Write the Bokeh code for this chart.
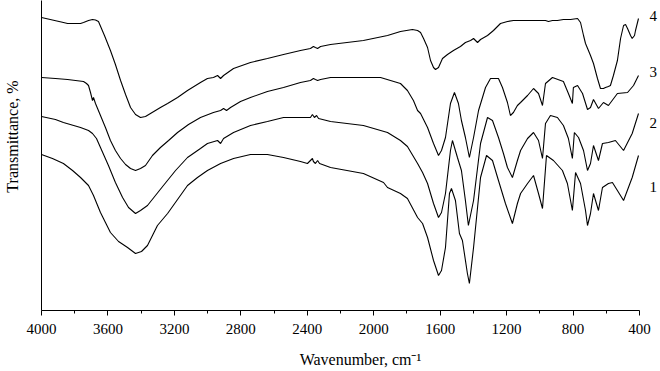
from bokeh.plotting import figure
from bokeh.models import Range1d, FixedTicker, LinearAxis
from bokeh.embed import file_html
from bokeh.resources import INLINE

# ---- data (wavenumber, cm-1 ; transmittance, arbitrary offset units) ----
wn4 = [4000, 3868, 3843, 3765, 3747, 3717, 3693, 3675, 3657, 3621, 3585, 3555, 3524, 3494, 3464, 3434, 3404, 3374, 3344, 3284,
       3241, 3181, 3121, 3043, 3001, 2965, 2940, 2922, 2904, 2844, 2742, 2640, 2543, 2441, 2381, 2363, 2351, 2338, 2320, 2260,
       2062, 1917, 1839, 1767, 1736, 1718, 1700, 1676, 1658, 1640, 1628, 1610, 1586, 1556, 1520, 1478, 1448, 1417, 1399, 1387,
       1375, 1357, 1315, 1279, 1237, 1195, 1159, 1056, 966, 948, 924, 894, 858, 815, 773, 755, 737, 725, 695, 677,
       653, 635, 617, 605, 587, 575, 557, 533, 514, 496, 484, 472, 454, 444, 430, 424, 406]
t4 = [293, 288, 287, 287, 288, 290, 291, 290.5, 289, 275, 260, 246, 230, 216, 203, 196, 193, 194, 197, 203,
      207, 213, 220, 228, 232, 233, 235, 232, 235, 242, 248, 252, 256, 260, 262, 264, 263, 262, 264, 266,
      270, 275, 279, 281, 280, 278, 272, 263, 250, 243, 241, 243, 252, 256, 260, 264, 268, 270, 272, 270,
      268, 271, 275, 280, 287, 289, 290, 290, 290, 289, 290, 290, 291, 291, 292, 288, 275, 267, 255, 247,
      232, 222, 222, 223, 224, 225, 235, 250, 272, 285, 286, 282, 275, 272, 275, 280, 292]

wn3 = [4000, 3916, 3843, 3795, 3747, 3729, 3717, 3705, 3693, 3687, 3675, 3645, 3615, 3585, 3555, 3524, 3494, 3464, 3434, 3404,
       3374, 3332, 3284, 3235, 3181, 3115, 3043, 2965, 2922, 2904, 2886, 2862, 2802, 2742, 2640, 2543, 2441, 2381, 2363, 2351,
       2338, 2320, 2260, 2140, 1959, 1899, 1839, 1797, 1761, 1736, 1718, 1676, 1640, 1610, 1592, 1568, 1538, 1514, 1490, 1472,
       1448, 1424, 1399, 1369, 1327, 1297, 1249, 1225, 1195, 1177, 1159, 1135, 1116, 1074, 1038, 1008, 984, 966, 924, 858,
       828, 804, 798, 773, 743, 713, 695, 677, 647, 617, 587, 533, 472, 436, 406]
t3 = [233, 232, 231, 230, 229, 227, 225, 218, 210, 213, 207, 195, 183, 170, 160, 152, 146, 142, 140, 142,
      145, 155, 163, 170, 178, 186, 193, 198, 200, 202, 200, 203, 209, 213, 219, 223, 228, 230, 232, 231,
      230, 231, 233, 233, 233, 230, 227, 220, 210, 200, 197, 183, 167, 155, 160, 173, 207, 218, 207, 190,
      173, 153, 173, 200, 223, 232, 232, 223, 208, 195, 198, 205, 208, 215, 222, 217, 205, 227, 233, 229,
      217, 207, 223, 225, 217, 201, 203, 211, 202, 208, 205, 217, 218, 225, 235]

wn2 = [4000, 3916, 3868, 3765, 3717, 3693, 3669, 3645, 3597, 3555, 3512, 3476, 3434, 3404, 3362, 3314, 3266, 3193, 3121, 3043,
       3001, 2940, 2922, 2904, 2844, 2742, 2640, 2543, 2441, 2381, 2369, 2357, 2344, 2332, 2260, 2062, 1917, 1839, 1797, 1736,
       1706, 1676, 1640, 1610, 1592, 1568, 1538, 1526, 1496, 1472, 1448, 1430, 1399, 1357, 1315, 1285, 1249, 1219, 1195, 1165,
       1135, 1116, 1074, 1038, 1008, 984, 966, 936, 894, 858, 828, 804, 792, 767, 737, 713, 695, 677, 647, 623,
       587, 545, 496, 444, 406]
t2 = [194, 191, 188, 183, 180, 177, 172, 163, 145, 128, 113, 103, 97, 100, 105, 115, 125, 140, 153, 162,
      167, 170, 167, 172, 178, 185, 189, 193, 193, 193, 196, 193, 195, 192, 189, 185, 178, 170, 164, 147,
      138, 127, 107, 93, 98, 117, 160, 170, 153, 140, 110, 85, 110, 167, 193, 190, 173, 157, 143, 133,
      150, 160, 172, 178, 170, 152, 187, 195, 193, 185, 172, 152, 178, 173, 160, 140, 147, 165, 150, 167,
      168, 170, 160, 177, 197]

wn1 = [4000, 3934, 3868, 3813, 3765, 3717, 3687, 3645, 3615, 3585, 3536, 3482, 3434, 3398, 3362, 3302, 3241, 3181, 3121, 3061,
       3001, 2922, 2844, 2742, 2640, 2543, 2441, 2399, 2381, 2369, 2363, 2351, 2338, 2326, 2260, 2062, 1941, 1917, 1839, 1797,
       1736, 1706, 1676, 1640, 1610, 1592, 1568, 1544, 1532, 1508, 1484, 1466, 1436, 1424, 1399, 1357, 1321, 1285, 1249, 1207,
       1165, 1135, 1116, 1074, 1038, 1008, 984, 960, 918, 864, 834, 804, 785, 755, 725, 713, 695, 677, 647, 623,
       587, 563, 533, 496, 444, 406]
t1 = [156, 152, 147, 140, 133, 125, 115, 98, 88, 78, 69, 63, 57, 59, 65, 85, 97, 111, 125, 133,
      140, 147, 152, 156, 156, 153, 149, 147, 150, 152, 149, 147, 150, 147, 143, 137, 128, 123, 117, 112,
      93, 87, 73, 50, 35, 40, 63, 117, 122, 110, 77, 70, 37, 27, 63, 133, 155, 150, 130, 107,
      87, 107, 117, 127, 135, 117, 102, 155, 150, 140, 127, 100, 138, 127, 100, 85, 97, 117, 100, 123,
      127, 128, 120, 110, 133, 155]

curve_labels = ["1", "2", "3", "4"]
label_t = [124, 188, 239, 295]

x_ticks = [4000, 3600, 3200, 2800, 2400, 2000, 1600, 1200, 800, 400]
x_minor = [3800, 3400, 3000, 2600, 2200, 1800, 1400, 1000, 600]

x_title = "Wavenumber, cm\u207b\u00b9"
x_title_at = 2080      # wavenumber under the centre of the x title
y_title = "Transmittance, %"
y_title_at = 174       # transmittance level beside the centre of the y title

SERIF = "Liberation Serif"

p = figure(width=660, height=371, output_backend="svg", toolbar_location=None,
           x_range=Range1d(4000, 400), y_range=Range1d(0, 310),
           min_border_left=41, min_border_right=21, min_border_top=0, min_border_bottom=61)
p.outline_line_color = None
p.xgrid.grid_line_color = None
p.ygrid.grid_line_color = None
p.background_fill_color = "white"
p.border_fill_color = "white"

for xs, ys in [(wn1, t1), (wn2, t2), (wn3, t3), (wn4, t4)]:
    p.line(xs, ys, line_color="black", line_width=1.1)

# bottom axis with numbers
xa = p.xaxis[0]
xa.ticker = FixedTicker(ticks=x_ticks, minor_ticks=x_minor)
xa.axis_line_color = "black"
xa.major_tick_line_color = "black"
xa.minor_tick_line_color = "black"
xa.major_tick_in = 0
xa.major_tick_out = 5
xa.minor_tick_in = 0
xa.minor_tick_out = 3
xa.major_label_standoff = 8
xa.major_label_text_font = SERIF
xa.major_label_text_font_size = "15px"
xa.major_label_text_color = "black"

# x title, placed under the numbers
xt = LinearAxis(ticker=FixedTicker(ticks=[x_title_at]),
                major_label_overrides={x_title_at: x_title})
xt.axis_line_color = None
xt.major_tick_line_color = None
xt.minor_tick_line_color = None
xt.major_tick_in = 0
xt.major_tick_out = 0
xt.minor_tick_out = 0
xt.major_label_standoff = 14
xt.major_label_text_font = SERIF
xt.major_label_text_font_size = "16px"
xt.major_label_text_color = "black"
p.add_layout(xt, "below")

# left axis: plain line, carries the y title as its single label
ya = p.yaxis[0]
ya.ticker = FixedTicker(ticks=[y_title_at])
ya.major_label_overrides = {y_title_at: y_title}
ya.major_label_orientation = "vertical"
ya.axis_line_color = "black"
ya.major_tick_line_color = None
ya.minor_tick_line_color = None
ya.major_tick_in = 0
ya.major_tick_out = 0
ya.minor_tick_in = 0
ya.minor_tick_out = 0
ya.major_label_standoff = 21
ya.major_label_text_font = SERIF
ya.major_label_text_font_size = "16px"
ya.major_label_text_color = "black"

# curve numbers at the right-hand end of each spectrum
ra = LinearAxis(ticker=FixedTicker(ticks=label_t),
                major_label_overrides={t: s for t, s in zip(label_t, curve_labels)})
ra.axis_line_color = None
ra.major_tick_line_color = None
ra.minor_tick_line_color = None
ra.major_tick_in = 0
ra.major_tick_out = 0
ra.minor_tick_out = 0
ra.major_label_standoff = 10
ra.major_label_text_font = SERIF
ra.major_label_text_font_size = "15px"
ra.major_label_text_color = "black"
p.add_layout(ra, "right")

open("out.html", "w").write(file_html(p, INLINE))
